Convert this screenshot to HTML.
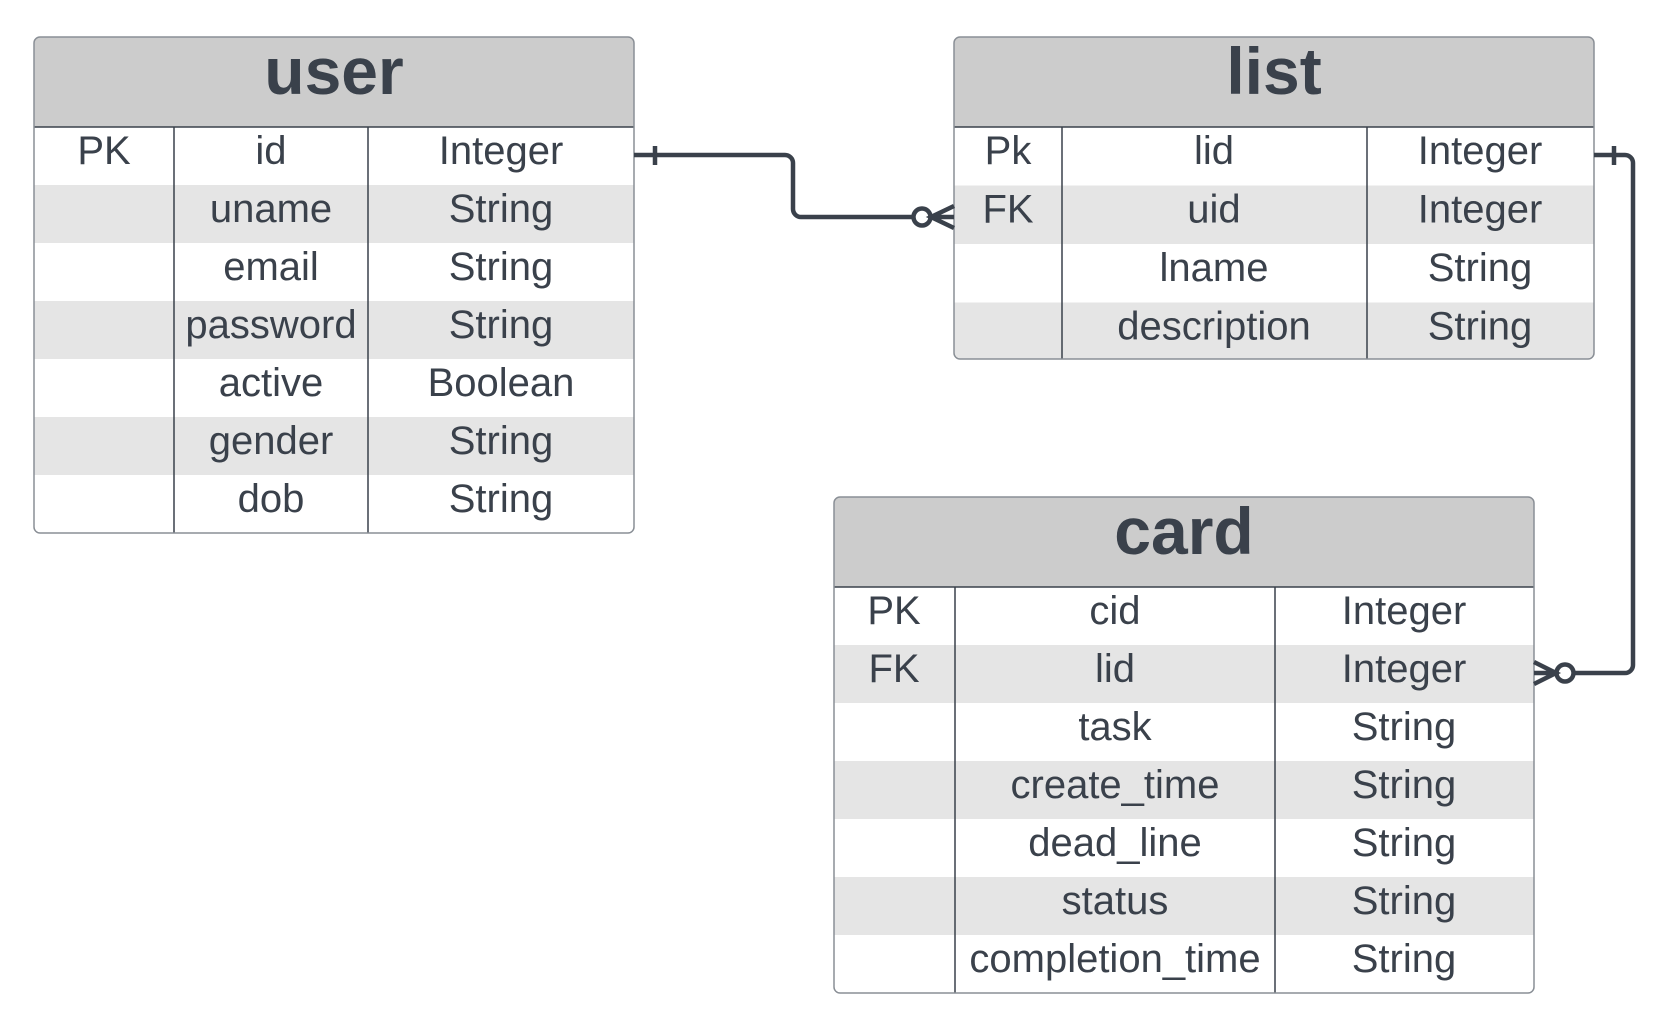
<!DOCTYPE html>
<html><head><meta charset="utf-8"><style>
html,body{margin:0;padding:0;background:#fff;}
svg{display:block;}
text{font-family:"Liberation Sans",Arial,sans-serif;fill:#3a414b;}
.t{font-size:40px;text-anchor:middle;}
.h{font-size:66px;font-weight:bold;text-anchor:middle;}
</style></head><body>
<svg width="1659" height="1023" viewBox="0 0 1659 1023" xmlns="http://www.w3.org/2000/svg">
<!-- USER -->
<g>
<path d="M34,127 V43 a6,6 0 0 1 6,-6 H628 a6,6 0 0 1 6,6 V127 Z" fill="#cccccc"/>
<rect x="34" y="185" width="600" height="58" fill="#e5e5e5"/>
<rect x="34" y="301" width="600" height="58" fill="#e5e5e5"/>
<rect x="34" y="417" width="600" height="58" fill="#e5e5e5"/>
<line x1="34" y1="127" x2="634" y2="127" stroke="#3a414b" stroke-width="1.5"/>
<line x1="174" y1="127" x2="174" y2="533" stroke="#3a414b" stroke-width="1.5"/>
<line x1="368" y1="127" x2="368" y2="533" stroke="#3a414b" stroke-width="1.5"/>
<rect x="34" y="37" width="600" height="496" rx="6" fill="none" stroke="#8a8f96" stroke-width="1.5"/>
<text class="h" x="334" y="94">user</text>
<text class="t" x="104" y="164">PK</text><text class="t" x="271" y="164">id</text><text class="t" x="501" y="164">Integer</text>
<text class="t" x="271" y="222">uname</text><text class="t" x="501" y="222">String</text>
<text class="t" x="271" y="280">email</text><text class="t" x="501" y="280">String</text>
<text class="t" x="271" y="338">password</text><text class="t" x="501" y="338">String</text>
<text class="t" x="271" y="396">active</text><text class="t" x="501" y="396">Boolean</text>
<text class="t" x="271" y="454">gender</text><text class="t" x="501" y="454">String</text>
<text class="t" x="271" y="512">dob</text><text class="t" x="501" y="512">String</text>
</g>
<!-- LIST -->
<g>
<path d="M954,127 V43 a6,6 0 0 1 6,-6 H1588 a6,6 0 0 1 6,6 V127 Z" fill="#cccccc"/>
<rect x="954" y="185.5" width="640" height="58.5" fill="#e5e5e5"/>
<path d="M954,302.5 H1594 V353 a6,6 0 0 1 -6,6 H960 a6,6 0 0 1 -6,-6 Z" fill="#e5e5e5"/>
<line x1="954" y1="127" x2="1594" y2="127" stroke="#3a414b" stroke-width="1.5"/>
<line x1="1062" y1="127" x2="1062" y2="359" stroke="#3a414b" stroke-width="1.5"/>
<line x1="1367" y1="127" x2="1367" y2="359" stroke="#3a414b" stroke-width="1.5"/>
<rect x="954" y="37" width="640" height="322" rx="6" fill="none" stroke="#8a8f96" stroke-width="1.5"/>
<text class="h" x="1274" y="94">list</text>
<text class="t" x="1008" y="164">Pk</text><text class="t" x="1214" y="164">lid</text><text class="t" x="1480" y="164">Integer</text>
<text class="t" x="1008" y="222.5">FK</text><text class="t" x="1214" y="222.5">uid</text><text class="t" x="1480" y="222.5">Integer</text>
<text class="t" x="1214" y="281">lname</text><text class="t" x="1480" y="281">String</text>
<text class="t" x="1214" y="339.5">description</text><text class="t" x="1480" y="339.5">String</text>
</g>
<!-- CARD -->
<g>
<path d="M834,587 V503 a6,6 0 0 1 6,-6 H1528 a6,6 0 0 1 6,6 V587 Z" fill="#cccccc"/>
<rect x="834" y="645" width="700" height="58" fill="#e5e5e5"/>
<rect x="834" y="761" width="700" height="58" fill="#e5e5e5"/>
<rect x="834" y="877" width="700" height="58" fill="#e5e5e5"/>
<line x1="834" y1="587" x2="1534" y2="587" stroke="#3a414b" stroke-width="1.5"/>
<line x1="955" y1="587" x2="955" y2="993" stroke="#3a414b" stroke-width="1.5"/>
<line x1="1275" y1="587" x2="1275" y2="993" stroke="#3a414b" stroke-width="1.5"/>
<rect x="834" y="497" width="700" height="496" rx="6" fill="none" stroke="#8a8f96" stroke-width="1.5"/>
<text class="h" x="1184" y="554">card</text>
<text class="t" x="894" y="624">PK</text><text class="t" x="1115" y="624">cid</text><text class="t" x="1404" y="624">Integer</text>
<text class="t" x="894" y="682">FK</text><text class="t" x="1115" y="682">lid</text><text class="t" x="1404" y="682">Integer</text>
<text class="t" x="1115" y="740">task</text><text class="t" x="1404" y="740">String</text>
<text class="t" x="1115" y="798">create_time</text><text class="t" x="1404" y="798">String</text>
<text class="t" x="1115" y="856">dead_line</text><text class="t" x="1404" y="856">String</text>
<text class="t" x="1115" y="914">status</text><text class="t" x="1404" y="914">String</text>
<text class="t" x="1115" y="972">completion_time</text><text class="t" x="1404" y="972">String</text>
</g>
<!-- connectors -->
<g fill="none" stroke="#3a414b" stroke-width="4.5" stroke-linecap="butt">
<path d="M634,155 H785 a8,8 0 0 1 8,8 V209 a8,8 0 0 0 8,8 H913"/>
<line x1="655" y1="146" x2="655" y2="165"/>
<circle cx="922" cy="217" r="8.5" fill="#fff"/>
<path d="M954,206 L931,217 L954,228 M931,217 H954"/>
<path d="M1594,155 H1625 a8,8 0 0 1 8,8 V665 a8,8 0 0 1 -8,8 H1574"/>
<line x1="1614" y1="146" x2="1614" y2="165"/>
<circle cx="1565" cy="673" r="8.5" fill="#fff"/>
<path d="M1534,662 L1556,673 L1534,684 M1534,673 H1556"/>
</g>
</svg>
</body></html>
